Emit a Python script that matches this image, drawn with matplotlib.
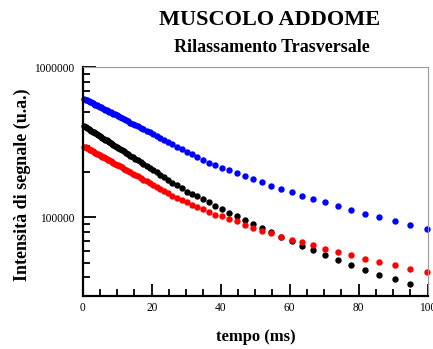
import matplotlib
matplotlib.use("Agg")
import numpy as np
import matplotlib.pyplot as plt
from matplotlib.ticker import FixedLocator, MultipleLocator, LogLocator, FuncFormatter, NullFormatter

plt.rcParams["font.family"] = ["Liberation Serif", "DejaVu Serif"]

# Echo times (ms), shared by all three decays
tempo_ms = [0.5, 0.9, 1.3, 1.7, 2.1, 2.5, 2.9, 3.3, 3.7, 4.1,
            4.5, 4.9, 5.3, 5.7, 6.1, 6.5, 6.9, 7.3, 7.7, 8.1,
            8.5, 8.9, 9.3, 9.8, 10.3, 10.8, 11.3, 11.9, 12.5, 13.1,
            13.8, 14.5, 15.2, 16.0, 16.8, 17.6, 18.5, 19.4, 20.4, 21.4,
            22.5, 23.6, 24.8, 26.0, 27.3, 28.7, 30.1,
            31.6, 33.0, 34.8, 36.6, 38.4, 40.4, 42.5, 44.7, 47.1, 49.4,
            51.9, 54.6, 57.5, 60.6, 63.7, 66.8, 70.3, 74.0, 77.8, 81.7,
            86.0, 90.4, 95.0, 99.8]

# Signal intensity (thousands of a.u.)
segnale_blu = [616.5, 609.8, 603.2, 596.7, 590.2, 583.8, 577.4, 571.2, 565.0, 558.8,
               552.7, 546.7, 540.8, 534.9, 529.1, 523.4, 517.7, 512.1, 506.5, 501.0,
               495.6, 490.2, 484.9, 478.3, 471.8, 465.4, 459.1, 451.6, 444.3, 437.1,
               428.8, 420.7, 412.7, 403.8, 395.1, 386.6, 377.2, 368.0, 358.1, 348.5,
               338.2, 328.2, 317.6, 307.3, 296.6, 285.5, 274.8,
               264.0, 253.0, 242.0, 232.0, 224.0, 215.0, 207.0, 197.0, 188.5, 179.0,
               171.0, 162.5, 155.0, 147.5, 140.0, 133.0, 126.0, 119.0, 112.0, 106.0,
               100.0, 94.6, 89.0, 83.7]

segnale_nero = [404.6, 399.2, 393.8, 388.5, 383.3, 378.2, 373.1, 368.1, 363.1, 358.2,
                353.4, 348.7, 344.0, 339.4, 334.8, 330.3, 325.9, 321.5, 317.2, 312.9,
                308.7, 304.6, 300.5, 295.5, 290.5, 285.7, 280.9, 275.2, 269.7, 264.3,
                258.1, 252.1, 246.2, 239.6, 233.2, 227.0, 220.2, 213.6, 206.5, 199.6,
                192.4, 185.3, 178.0, 170.9, 163.5, 156.0, 148.8,
                144.0, 138.5, 132.0, 125.8, 119.5, 114.0, 107.5, 102.5, 96.0, 91.0,
                85.0, 79.5, 74.0, 69.5, 65.0, 60.5, 56.5, 52.0, 48.5, 45.0,
                41.6, 39.0, 35.8]

segnale_rosso = [296.6, 293.1, 289.6, 286.2, 282.9, 279.5, 276.2, 273.0, 269.8, 266.6,
                 263.5, 260.4, 257.3, 254.3, 251.3, 248.3, 245.4, 242.5, 239.7, 236.8,
                 234.0, 231.3, 228.6, 225.2, 221.9, 218.6, 215.4, 211.6, 207.9, 204.3,
                 200.1, 196.0, 191.9, 187.5, 183.1, 178.8, 174.1, 169.5, 164.6, 159.8,
                 154.6, 149.7, 144.5, 139.4, 134.2, 130.5, 126.2,
                 121.5, 118.3, 114.2, 108.5, 104.5, 101.5, 97.6, 94.1, 89.0, 85.4,
                 80.7, 78.7, 74.4, 71.1, 68.2, 65.5, 61.7, 58.5, 55.9, 52.9,
                 50.5, 48.0, 45.6, 43.4]

x_ticks = [0, 20, 40, 60, 80, 100]
y_ticks = [1e5, 1e6]

t = np.array(tempo_ms)
blu = np.array(segnale_blu) * 1e3
nero = np.array(segnale_nero) * 1e3
rosso = np.array(segnale_rosso) * 1e3

fig = plt.figure(figsize=(4.33, 3.49), dpi=100)
ax = fig.add_axes([0.191, 0.1519, 0.7968, 0.6553])

mk = dict(linestyle="none", marker="o", markersize=4.6, markeredgewidth=0, clip_on=False)
ax.plot(t, blu, color="#0000ff", **mk)
ax.plot(t[:len(nero)], nero, color="#000000", **mk)
ax.plot(t, rosso, color="#ff0000", **mk)

ax.set_yscale("log")
ax.set_xlim(0, 100)
ax.set_ylim(3e4, 1e6)

ax.xaxis.set_major_locator(FixedLocator(x_ticks))
ax.xaxis.set_minor_locator(MultipleLocator(5))
ax.yaxis.set_major_locator(FixedLocator(y_ticks))
ax.yaxis.set_major_formatter(FuncFormatter(lambda v, p: f"{int(round(v))}"))
ax.yaxis.set_minor_locator(LogLocator(base=10, subs=np.arange(2, 10)))
ax.yaxis.set_minor_formatter(NullFormatter())

ax.tick_params(which="both", direction="in", top=False, right=False,
               width=1.3, color="black", labelsize=8.3)
ax.tick_params(which="major", length=9)
ax.tick_params(which="minor", length=5)
ax.tick_params(axis="x", pad=4.5)
ax.tick_params(axis="y", pad=6)

for side in ("left", "bottom"):
    ax.spines[side].set_linewidth(1.6)
    ax.spines[side].set_color("black")
for side in ("top", "right"):
    ax.spines[side].set_linewidth(0.8)
    ax.spines[side].set_color("#9a9a9a")

fig.text(270 / 433, 1 - 20 / 349, "MUSCOLO ADDOME", ha="center", va="center",
         fontsize=16, fontweight="bold")
fig.text(272 / 433, 1 - 48 / 349, "Rilassamento Trasversale", ha="center", va="center",
         fontsize=13, fontweight="bold")
fig.text(22 / 433, 1 - 185 / 349, "Intensità di segnale (u.a.)", ha="center", va="center",
         rotation=90, fontsize=13, fontweight="bold")
fig.text(256 / 433, 1 - 337 / 349, "tempo (ms)", ha="center", va="center",
         fontsize=12, fontweight="bold")

fig.savefig("out.png", dpi=100)
